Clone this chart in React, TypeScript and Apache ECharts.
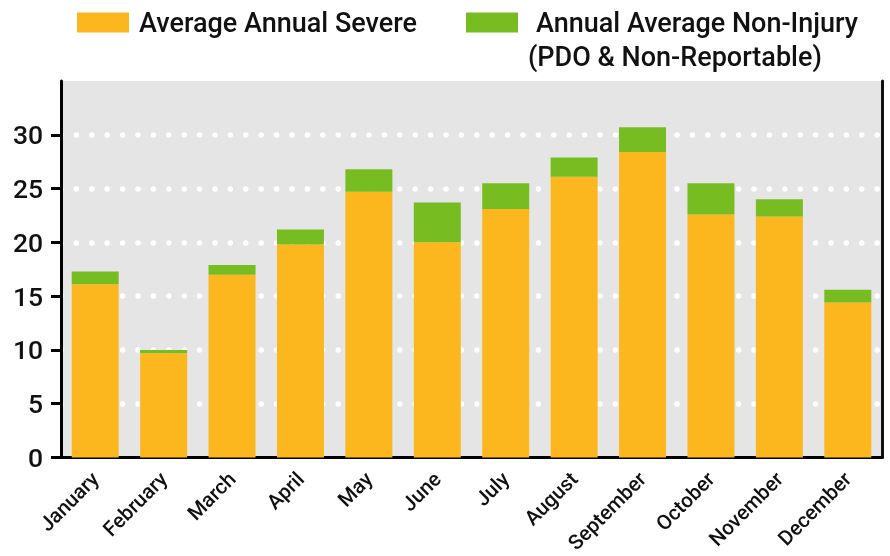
import React, { useEffect, useRef } from "react";
import * as echarts from "echarts";

const months = [
  "January", "February", "March", "April", "May", "June",
  "July", "August", "September", "October", "November", "December",
];
const severe = [16.1, 9.7, 17.0, 19.8, 24.7, 20.0, 23.1, 26.1, 28.4, 22.6, 22.4, 14.4];
const nonInjury = [1.2, 0.3, 0.9, 1.4, 2.1, 3.7, 2.4, 1.8, 2.3, 2.9, 1.6, 1.2];

const SEVERE_NAME = "Average Annual Severe";
const NON_INJURY_NAME = "Annual Average Non-Injury";
const NON_INJURY_SUB = "(PDO & Non-Reportable)";

const ORANGE = "#FDB71E";
const GREEN = "#77BC21";
const FONT = "Roboto, 'Noto Sans', sans-serif";

export default function App() {
  const ref = useRef<HTMLDivElement>(null);

  useEffect(() => {
    if (!ref.current) return;
    const chart = echarts.init(ref.current, undefined, { renderer: "svg" });
    const legendText = {
      fontSize: 27,
      fontWeight: 500,
      color: "#111",
      fontFamily: FONT,
    };
    chart.setOption({
      animation: false,
      textStyle: { fontFamily: FONT },
      legend: [
        {
          data: [SEVERE_NAME],
          left: 77,
          top: 9,
          padding: 0,
          itemWidth: 52,
          itemHeight: 20,
          icon: "rect",
          selectedMode: false,
          textStyle: { ...legendText, padding: [0, 0, 0, 5] },
        },
        {
          data: [NON_INJURY_NAME],
          left: 466,
          top: 9,
          padding: 0,
          itemWidth: 52,
          itemHeight: 20,
          icon: "rect",
          selectedMode: false,
          textStyle: { ...legendText, padding: [0, 0, 0, 13] },
        },
      ],
      graphic: [
        {
          type: "text",
          left: 528,
          top: 43,
          style: {
            text: NON_INJURY_SUB,
            font: `500 27px ${FONT}`,
            fill: "#111",
          },
        },
      ],
      grid: {
        left: 61,
        right: 8,
        top: 81,
        bottom: 98,
        show: true,
        backgroundColor: "#E5E5E5",
        borderWidth: 0,
      },
      xAxis: {
        type: "category",
        data: months,
        axisLine: { lineStyle: { color: "#000", width: 3 } },
        axisTick: {
          alignWithLabel: true,
          length: 11,
          lineStyle: { color: "#000", width: 3 },
        },
        axisLabel: {
          rotate: 45,
          margin: 18,
          fontSize: 20.5,
          fontWeight: 500,
          color: "#111",
          fontFamily: FONT,
          interval: 0,
        },
      },
      yAxis: [
        {
          type: "value",
          min: 0,
          max: 35,
          interval: 5,
          axisLine: { show: true, lineStyle: { color: "#000", width: 3 } },
          axisTick: { show: true, length: 10, lineStyle: { color: "#000", width: 3 } },
          axisLabel: {
            margin: 18,
            fontSize: 26.5,
            fontWeight: 500,
            color: "#111",
            fontFamily: FONT,
            showMaxLabel: false,
          },
          splitLine: {
            show: true,
            showMinLine: false,
            showMaxLine: false,
            lineStyle: {
              color: "#FFFFFF",
              width: 5.5,
              type: [0, 15.4],
              cap: "round",
            },
          },
        },
        {
          type: "value",
          position: "right",
          min: 0,
          max: 35,
          interval: 5,
          axisLine: { show: true, lineStyle: { color: "#111", width: 3 } },
          axisTick: { show: false },
          axisLabel: { show: false },
          splitLine: { show: false },
        },
      ],
      series: [
        {
          name: SEVERE_NAME,
          type: "bar",
          stack: "total",
          data: severe,
          barWidth: 47,
          itemStyle: { color: ORANGE },
        },
        {
          name: NON_INJURY_NAME,
          type: "bar",
          stack: "total",
          data: nonInjury,
          barWidth: 47,
          itemStyle: { color: GREEN },
        },
      ],
    });
    return () => chart.dispose();
  }, []);

  return (
    <div
      ref={ref}
      style={{ position: "fixed", left: 0, top: 0, width: 890, height: 556 }}
    />
  );
}
